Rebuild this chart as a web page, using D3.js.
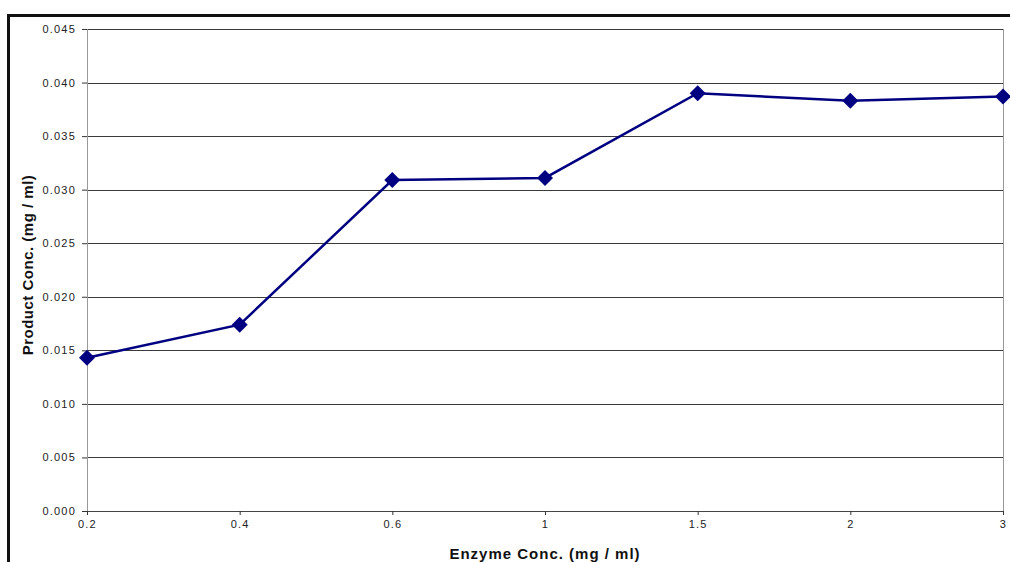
<!DOCTYPE html>
<html>
<head>
<meta charset="utf-8">
<script src="https://cdnjs.cloudflare.com/ajax/libs/d3/7.8.5/d3.min.js"></script>
<style>
  html, body { margin: 0; padding: 0; background: #fff; }
  svg { display: block; font-family: "Liberation Sans", Arial, sans-serif; }
</style>
</head>
<body>
<svg id="chart" width="1010" height="562"></svg>
<script>
// Enzyme concentration (mg/ml) categories and measured product concentration (mg/ml)
const enzymeConc = ["0.2", "0.4", "0.6", "1", "1.5", "2", "3"];
const productConc = [0.0143, 0.0174, 0.0309, 0.0311, 0.0390, 0.0383, 0.0387];
const yTicks = [0, 0.005, 0.010, 0.015, 0.020, 0.025, 0.030, 0.035, 0.040, 0.045];

const svg = d3.select("#chart");
const W = 1010, H = 562;
const plot = { left: 87, top: 29, right: 1003, bottom: 511 };

// Outer chart frame (top and left edges visible)
svg.append("path")
  .attr("d", `M8.5,${H} L8.5,15.5 L${W},15.5`)
  .attr("fill", "none").attr("stroke", "#111").attr("stroke-width", 3);

const x = d3.scalePoint().domain(enzymeConc).range([plot.left, plot.right]).padding(0);
const y = d3.scaleLinear().domain([0, 0.045]).range([plot.bottom, plot.top]);

// Horizontal gridlines
svg.append("g").selectAll("line").data(yTicks.filter(d => d > 0)).join("line")
  .attr("x1", plot.left).attr("x2", plot.right)
  .attr("y1", d => Math.round(y(d)) + 0.5).attr("y2", d => Math.round(y(d)) + 0.5)
  .attr("stroke", "#3a3a3a").attr("stroke-width", 1);

// Plot area left and right edges
svg.append("line").attr("x1", plot.left + 0.5).attr("x2", plot.left + 0.5)
  .attr("y1", plot.top).attr("y2", plot.bottom).attr("stroke", "#999");
svg.append("line").attr("x1", plot.right + 0.5).attr("x2", plot.right + 0.5)
  .attr("y1", plot.top).attr("y2", plot.bottom).attr("stroke", "#999");

// Y axis
const yAxis = d3.axisLeft(y).tickValues(yTicks).tickFormat(d3.format(".3f")).tickSize(5).tickPadding(6);
const gy = svg.append("g").attr("transform", `translate(${plot.left},0)`).call(yAxis);
gy.select(".domain").remove();
gy.selectAll(".tick line").attr("stroke", "#333");
gy.selectAll(".tick text").attr("font-size", 11).attr("fill", "#222")
  .attr("font-family", "Liberation Sans, Arial, sans-serif").style("letter-spacing", "1.2px");

// X axis
const xAxis = d3.axisBottom(x).tickSize(4).tickPadding(5);
const gx = svg.append("g").attr("transform", `translate(0,${plot.bottom})`).call(xAxis);
gx.select(".domain").attr("stroke", "#444").attr("d", `M${plot.left},0.5H${plot.right + 1}`);
gx.selectAll(".tick line").attr("stroke", "#333");
gx.selectAll(".tick text").attr("font-size", 11).attr("fill", "#222")
  .attr("font-family", "Liberation Sans, Arial, sans-serif").style("letter-spacing", "1.2px");

// Axis titles
svg.append("text").attr("x", 545).attr("y", 559)
  .attr("text-anchor", "middle").attr("font-size", 15).attr("font-weight", "bold").attr("fill", "#111")
  .style("letter-spacing", "1px")
  .text("Enzyme Conc. (mg / ml)");
svg.append("text").attr("transform", `translate(33,265) rotate(-90)`)
  .attr("text-anchor", "middle").attr("font-size", 15).attr("font-weight", "bold").attr("fill", "#111")
  .style("letter-spacing", "0.5px")
  .text("Product Conc. (mg / ml)");

// Data line
const line = d3.line().x((d, i) => x(enzymeConc[i])).y(d => y(d));
svg.append("path").datum(productConc).attr("d", line)
  .attr("fill", "none").attr("stroke", "#000080").attr("stroke-width", 2.5);

// Diamond markers
svg.append("g").selectAll("path").data(productConc).join("path")
  .attr("transform", (d, i) => `translate(${x(enzymeConc[i])},${y(d)})`)
  .attr("d", "M0,-8 L8,0 L0,8 L-8,0 Z")
  .attr("fill", "#000080");
</script>
</body>
</html>
